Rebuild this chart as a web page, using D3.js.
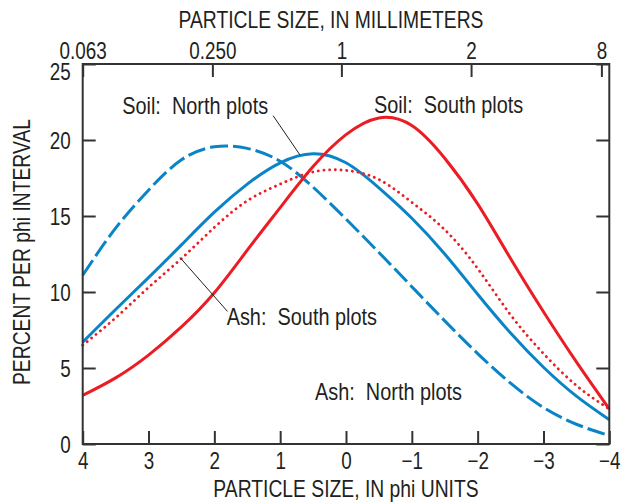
<!DOCTYPE html>
<html><head><meta charset="utf-8">
<script src="https://cdn.jsdelivr.net/npm/d3@7"></script>
<style>
html,body{margin:0;padding:0;background:#fff;}
svg text{font-family:"Liberation Sans Narrow","Arial Narrow","Liberation Sans",Arial,sans-serif;fill:#231f20;font-size:23px;}
</style></head><body>
<svg id="chart" width="634" height="504"></svg>
<script>
// phi units (x), decreasing left to right
const phi = [4,3.5,3,2.5,2,1.5,1,0.5,0,-0.5,-1,-1.5,-2,-2.5,-3,-3.5,-4];
const ashNorth  = [11.1,14.2,16.7,18.7,19.55,19.45,18.6,16.9,14.8,12.6,10.35,8.1,5.95,4.0,2.4,1.3,0.55];
const soilNorth = [6.7,8.85,10.95,13.1,15.25,17.1,18.5,19.1,18.5,16.85,14.85,12.5,9.85,7.3,5.05,3.15,1.6];
const ashSouth  = [6.5,8.3,10.3,12.2,14.25,16.0,17.1,17.9,18.0,17.4,15.9,14.1,11.55,8.5,5.95,3.85,2.3];
const soilSouth = [3.2,4.35,5.85,7.7,9.95,12.75,15.55,18.25,20.35,21.45,20.95,18.8,15.8,12.2,8.7,5.4,2.3];

const bottomTicks = [4,3,2,1,0,-1,-2,-3,-4];
const yTicks = [0,5,10,15,20,25];
const topLabels = ["0.063","0.250","1","2","8"];
const topTickPhi = [4,2.03,0.07,-1.9,-3.88];

const labels = [
  {text:"Soil:  North plots", x:3.40, y:21.73},
  {text:"Soil:  South plots", x:-0.425, y:21.8},
  {text:"Ash:  South plots", x:1.813, y:7.86},
  {text:"Ash:  North plots", x:0.471, y:2.91}
];
const leaders = [
  {x1:1.107, y1:21.6, x2:0.70, y2:19.02},
  {x1:2.522, y1:12.27, x2:1.80, y2:8.72}
];

(function(){
const W = 634, H = 504;
const m = {left:82.7, right:24.7, top:64, bottom:60};
const SX = 0.82, SXT = 0.84, SXA = 0.865; // horizontal condensing of the text face
const svg = d3.select("#chart");
const x = d3.scaleLinear().domain([4,-4]).range([m.left, W-m.right]);
const y = d3.scaleLinear().domain([0,25]).range([H-m.bottom, m.top]);

const BLUE = "#0a84c6", RED = "#ec1c24", INK = "#333";

const line = vals => d3.line().x((d,i)=>x(phi[i])).y(d=>y(d)).curve(d3.curveNatural)(vals);

const series = [
  {v:ashNorth, c:BLUE, dash:"18,5", cap:"butt", w:3},
  {v:soilNorth, c:BLUE, dash:null, cap:"butt", w:3},
  {v:ashSouth, c:RED, dash:"0.1,5.6", cap:"round", w:2.8},
  {v:soilSouth, c:RED, dash:null, cap:"butt", w:3}
];
const g = svg.append("g");
series.forEach(s=>{
  g.append("path").attr("d", line(s.v)).attr("fill","none")
   .attr("stroke", s.c).attr("stroke-width", s.w)
   .attr("stroke-linecap", s.cap)
   .attr("stroke-dasharray", s.dash);
});

function condense(sel){
  sel.each(function(){
    const t = d3.select(this);
    const xx = +t.attr("x") || 0;
    t.attr("x", xx/SX).attr("transform", `scale(${SX},1)`);
  });
}

// axes (inward ticks)
const tl = 13;
const axB = svg.append("g").attr("transform",`translate(0,${y(0)})`)
  .call(d3.axisBottom(x).tickValues(bottomTicks).tickSizeInner(-tl).tickSizeOuter(0).tickPadding(8)
    .tickFormat(d=>d<0?"\u2212"+Math.abs(d):d));
const axL = svg.append("g").attr("transform",`translate(${m.left},0)`)
  .call(d3.axisLeft(y).tickValues(yTicks).tickSizeInner(-tl).tickSizeOuter(0).tickPadding(12));
const axR = svg.append("g").attr("transform",`translate(${W-m.right},0)`)
  .call(d3.axisRight(y).tickValues(yTicks).tickSizeInner(-tl).tickSizeOuter(0).tickFormat(""));
const topScale = d3.scaleOrdinal().domain(topLabels).range(topTickPhi.map(p=>x(p)));
const axT = svg.append("g").attr("transform",`translate(0,${m.top})`)
  .call(d3.axisTop(topScale).tickSizeInner(-tl).tickSizeOuter(0).tickPadding(5));
[axB,axL,axR,axT].forEach(a=>{
  a.select(".domain").remove();
  a.selectAll(".tick line").attr("stroke",INK).attr("stroke-width",2);
  a.selectAll("text").attr("font-size",23).attr("font-family",null).attr("fill","#231f20");
  condense(a.selectAll("text"));
});
axL.selectAll(".tick text").attr("dy", d=> d===25 ? "0.66em" : "0.36em");
axB.selectAll(".tick text").attr("dy","0.72em");

// frame
svg.append("rect").attr("x",m.left).attr("y",m.top)
  .attr("width",W-m.left-m.right).attr("height",H-m.top-m.bottom)
  .attr("fill","none").attr("stroke",INK).attr("stroke-width",2);

function addText(px, py, str, anchor, sx, rot){
  return svg.append("text")
    .attr("transform",`translate(${px},${py})${rot?` rotate(${rot})`:""} scale(${sx},1)`)
    .attr("text-anchor",anchor).attr("xml:space","preserve").style("white-space","pre").text(str);
}
// titles
addText(331, 28, "PARTICLE SIZE, IN MILLIMETERS", "middle", SXT);
addText(346, 497, "PARTICLE SIZE, IN phi UNITS", "middle", SXT);
addText(30, 252, "PERCENT PER phi INTERVAL", "middle", SXT, -90);

// annotations
labels.forEach(l=> addText(x(l.x), y(l.y), l.text, "start", SXA));
leaders.forEach(l=>{
  svg.append("line").attr("x1",x(l.x1)).attr("y1",y(l.y1)).attr("x2",x(l.x2)).attr("y2",y(l.y2))
    .attr("stroke","#222").attr("stroke-width",1);
});
})();
</script></body></html>
